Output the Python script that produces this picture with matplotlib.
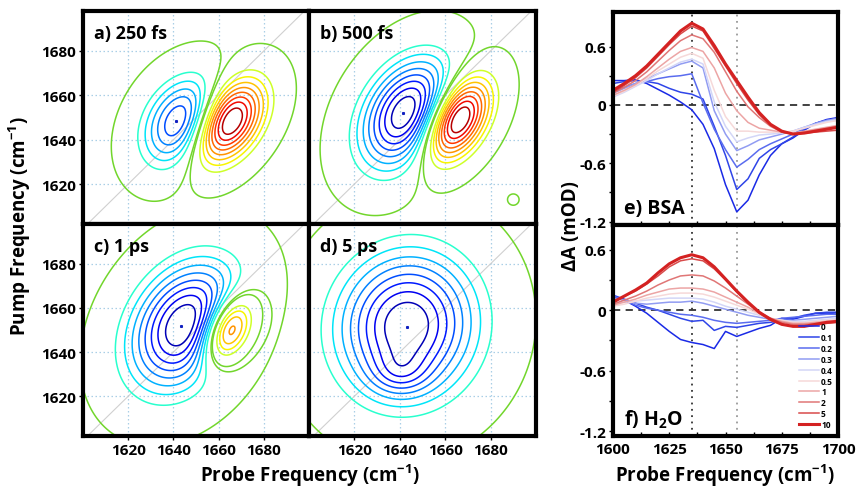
import numpy as np
import matplotlib
matplotlib.use('Agg')
import matplotlib.pyplot as plt
from matplotlib import cm

plt.rcParams['font.family'] = ['Open Sans', 'DejaVu Sans']
plt.rcParams['font.weight'] = 'bold'
plt.rcParams['mathtext.fontset'] = 'custom'
plt.rcParams['mathtext.rm'] = 'Open Sans:bold'
plt.rcParams['mathtext.bf'] = 'Open Sans:bold'
plt.rcParams['mathtext.default'] = 'bf'

# ---- 2D IR panels: peaks
# (amplitude, probe centre, pump centre, probe width, pump width, tilt)
peaks_a = [(-0.68, 1644, 1648, 12, 14, 0.30), (1.0, 1664, 1648, 11, 13, 0.42)]
peaks_b = [(-0.85, 1643, 1652, 14, 17, 0.35), (1.0, 1665, 1649, 10, 13, 0.45),
           (0.03, 1690, 1613, 3, 3, 0.0)]
peaks_c = [(-1.0, 1645, 1652, 17, 20, 0.30), (0.95, 1664, 1650, 8, 11, 0.40)]
peaks_d = [(-1.0, 1643, 1652, 21, 23, 0.05), (-0.20, 1640, 1630, 9, 7, 0.0)]
panel_peaks = [peaks_a, peaks_b, peaks_c, peaks_d]
panel_labels = ['a) 250 fs', 'b) 500 fs', 'c) 1 ps', 'd) 5 ps']
contour_steps = [0.2, 0.3, 0.4, 0.5, 0.6, 0.7, 0.8, 0.9]
zero_step = 0.025
grid_ticks = [1620, 1640, 1660, 1680]

# ---- 1D transient spectra
probe_1d = [1600, 1605, 1610, 1615, 1620, 1625, 1630, 1635, 1640, 1645, 1650,
            1655, 1660, 1665, 1670, 1675, 1680, 1685, 1690, 1695, 1700]
delays = ['0', '0.1', '0.2', '0.3', '0.4', '0.5', '1', '2', '5', '10']

bsa_0 = [0.25, 0.25, 0.26, 0.22, 0.16, 0.10, 0.03, -0.05, -0.20, -0.45, -0.82,
         -1.10, -0.98, -0.72, -0.52, -0.40, -0.34, -0.26, -0.19, -0.15, -0.13]
bsa_01 = [0.22, 0.24, 0.25, 0.24, 0.22, 0.17, 0.13, 0.11, 0.06, -0.22, -0.52,
          -0.87, -0.76, -0.55, -0.46, -0.40, -0.33, -0.25, -0.19, -0.16, -0.14]
bsa_02 = [0.14, 0.18, 0.22, 0.24, 0.27, 0.29, 0.30, 0.32, 0.02, -0.25, -0.46,
          -0.64, -0.56, -0.46, -0.40, -0.35, -0.30, -0.24, -0.19, -0.16, -0.14]
bsa_03 = [0.12, 0.17, 0.22, 0.27, 0.32, 0.37, 0.42, 0.45, 0.38, -0.06, -0.30,
          -0.47, -0.42, -0.36, -0.33, -0.30, -0.27, -0.23, -0.19, -0.16, -0.14]
bsa_04 = [0.08, 0.13, 0.19, 0.25, 0.32, 0.38, 0.44, 0.47, 0.42, 0.03, -0.22,
          -0.38, -0.34, -0.31, -0.30, -0.29, -0.27, -0.23, -0.20, -0.17, -0.15]
bsa_05 = [0.09, 0.14, 0.20, 0.27, 0.35, 0.42, 0.49, 0.53, 0.48, 0.15, -0.12,
          -0.27, -0.27, -0.28, -0.28, -0.28, -0.27, -0.24, -0.21, -0.18, -0.16]
bsa_1 = [0.10, 0.15, 0.21, 0.29, 0.38, 0.47, 0.55, 0.59, 0.55, 0.38, 0.12,
         -0.06, -0.18, -0.24, -0.26, -0.28, -0.29, -0.27, -0.25, -0.23, -0.21]
bsa_2 = [0.12, 0.18, 0.25, 0.34, 0.45, 0.56, 0.66, 0.72, 0.68, 0.54, 0.34,
         0.14, -0.02, -0.13, -0.22, -0.28, -0.30, -0.28, -0.26, -0.24, -0.22]
bsa_5 = [0.13, 0.20, 0.28, 0.38, 0.50, 0.62, 0.73, 0.81, 0.76, 0.58, 0.40,
         0.22, 0.05, -0.10, -0.21, -0.28, -0.30, -0.29, -0.28, -0.27, -0.26]
bsa_10 = [0.15, 0.22, 0.30, 0.40, 0.52, 0.64, 0.76, 0.84, 0.78, 0.61, 0.42,
          0.25, 0.08, -0.08, -0.20, -0.27, -0.30, -0.29, -0.27, -0.25, -0.23]

h2o_0 = [0.13, 0.10, 0.04, -0.03, -0.12, -0.21, -0.29, -0.32, -0.34, -0.38, -0.21,
         -0.26, -0.22, -0.18, -0.15, -0.08, -0.09, -0.06, -0.03, -0.03, -0.04]
h2o_01 = [0.15, 0.11, 0.07, 0.03, 0.00, -0.04, -0.08, -0.11, -0.10, -0.20, -0.16,
          -0.17, -0.15, -0.13, -0.12, -0.10, -0.08, -0.05, -0.03, -0.02, -0.02]
h2o_02 = [0.14, 0.10, 0.05, 0.02, 0.00, -0.02, -0.04, -0.05, -0.07, -0.10, -0.12,
          -0.13, -0.12, -0.11, -0.10, -0.08, -0.07, -0.06, -0.05, -0.04, -0.04]
h2o_03 = [0.12, 0.10, 0.07, 0.06, 0.07, 0.08, 0.08, 0.09, 0.07, 0.04, 0.01,
          -0.02, -0.05, -0.07, -0.09, -0.10, -0.10, -0.09, -0.08, -0.07, -0.06]
h2o_04 = [0.08, 0.08, 0.09, 0.10, 0.11, 0.12, 0.12, 0.12, 0.11, 0.08, 0.04,
          0.01, -0.02, -0.05, -0.08, -0.10, -0.11, -0.11, -0.10, -0.09, -0.08]
h2o_05 = [0.04, 0.06, 0.09, 0.12, 0.14, 0.16, 0.17, 0.17, 0.16, 0.13, 0.09,
          0.05, 0.01, -0.04, -0.08, -0.10, -0.12, -0.12, -0.11, -0.10, -0.09]
h2o_1 = [0.05, 0.08, 0.11, 0.15, 0.18, 0.21, 0.22, 0.22, 0.21, 0.18, 0.13,
         0.08, 0.03, -0.03, -0.08, -0.11, -0.13, -0.13, -0.12, -0.11, -0.10]
h2o_2 = [0.06, 0.10, 0.14, 0.19, 0.25, 0.30, 0.34, 0.35, 0.34, 0.29, 0.22,
         0.14, 0.06, -0.02, -0.08, -0.12, -0.14, -0.14, -0.13, -0.12, -0.11]
h2o_5 = [0.09, 0.14, 0.19, 0.26, 0.34, 0.43, 0.49, 0.51, 0.49, 0.41, 0.30,
         0.18, 0.07, -0.03, -0.10, -0.14, -0.16, -0.16, -0.15, -0.13, -0.12]
h2o_10 = [0.08, 0.14, 0.20, 0.27, 0.37, 0.46, 0.52, 0.55, 0.52, 0.43, 0.31,
          0.19, 0.08, -0.02, -0.09, -0.14, -0.16, -0.16, -0.14, -0.12, -0.11]

bsa_curves = [bsa_0, bsa_01, bsa_02, bsa_03, bsa_04, bsa_05, bsa_1, bsa_2, bsa_5, bsa_10]
h2o_curves = [h2o_0, h2o_01, h2o_02, h2o_03, h2o_04, h2o_05, h2o_1, h2o_2, h2o_5, h2o_10]
marker_lines = [1635, 1655]

line_colors = ['#1a2ae6', '#2f45e8', '#5a6cef', '#919cf2', '#d3d6f7',
               '#f6d9d9', '#eca5a5', '#e07676', '#d84a4a', '#d42222']
line_widths = [1.1] * 9 + [2.2]

W, H = 857, 489
fig = plt.figure(figsize=(W / 100, H / 100), dpi=100)


def box(x0, y0, x1, y1):
    return [x0 / W, 1 - y1 / H, (x1 - x0) / W, (y1 - y0) / H]


def field(peaks, X, Y):
    Z = np.zeros_like(X)
    for A, x0, y0, sx, sy, r in peaks:
        dx = (X - x0) / sx
        dy = (Y - y0) / sy
        q = (dx**2 - 2 * r * dx * dy + dy**2) / (1 - r**2)
        Z += A * np.exp(-0.5 * q)
    return Z / np.abs(Z).max()


probe = np.linspace(1595, 1705, 221)
pump = np.linspace(1595, 1705, 221)
X, Y = np.meshgrid(probe, pump)

levels = [-s for s in contour_steps[::-1]] + [-zero_step, zero_step] + contour_steps
colors = [cm.jet(0.5 + l / 2) for l in levels]
green = '#72d62c'
colors[len(contour_steps)] = green
colors[len(contour_steps) + 1] = green

boxes_2d = [(83, 12, 309, 225), (309, 12, 536, 225),
            (83, 225, 309, 437), (309, 225, 536, 437)]

for i, (peaks, label, bx) in enumerate(zip(panel_peaks, panel_labels, boxes_2d)):
    ax = fig.add_axes(box(*bx))
    for g in grid_ticks:
        ax.axvline(g, color='#a9cfe6', ls=(0, (1.2, 2.0)), lw=0.9, zorder=0)
        ax.axhline(g, color='#a9cfe6', ls=(0, (1.2, 2.0)), lw=0.9, zorder=0)
    ax.plot([1600, 1700], [1600, 1700], color='#d0d0d0', lw=0.8, zorder=1)
    Z = field(peaks, X, Y)
    ax.contour(X, Y, Z, levels=levels, colors=colors, linewidths=1.1, zorder=2)
    k = np.argmin(Z)
    ax.plot(X.flat[k], Y.flat[k], 's', ms=1.2, color='#1020c0', zorder=3)
    ax.set_xlim(1600, 1700)
    ax.set_ylim(1602, 1698)
    ax.set_xticks(grid_ticks)
    ax.set_yticks(grid_ticks)
    ax.tick_params(direction='out', length=3, width=1, labelsize=11, pad=2)
    if i in (1, 3):
        ax.set_yticklabels([])
        ax.tick_params(axis='y', length=0)
    if i in (0, 1):
        ax.set_xticklabels([])
        ax.tick_params(axis='x', length=0)
    for s in ax.spines.values():
        s.set_linewidth(3)
    ax.text(0.05, 0.94, label, transform=ax.transAxes, fontsize=13,
            fontweight='bold', va='top', ha='left')

fig.text(20 / W, 1 - 226 / H, 'Pump Frequency (cm$^{-1}$)', rotation=90,
         ha='center', va='center', fontsize=13.5, fontweight='bold')
fig.text(310 / W, 1 - 476 / H, 'Probe Frequency (cm$^{-1}$)',
         ha='center', va='center', fontsize=13.5, fontweight='bold')

# ---- right column
boxes_1d = [(613, 13, 838, 226), (613, 226, 838, 437)]
ylims = [(-1.235, 0.955), (-1.247, 0.845)]
for j, (curves, bx, yl) in enumerate(zip([bsa_curves, h2o_curves], boxes_1d, ylims)):
    ax = fig.add_axes(box(*bx))
    ax.axhline(0, color='#333333', ls=(0, (4, 3)), lw=1.3, zorder=1)
    ax.axvline(marker_lines[0], color='#333333', ls=(0, (1, 2.5)), lw=1.3, zorder=1)
    ax.axvline(marker_lines[1], color='#999999', ls=(0, (1, 2.5)), lw=1.3, zorder=1)
    for c, d, col, lw in zip(curves, delays, line_colors, line_widths):
        ax.plot(probe_1d, c, color=col, lw=lw, label=d, zorder=2)
    ax.set_xlim(1600, 1700)
    ax.set_ylim(*yl)
    ax.set_yticks([-1.2, -0.6, 0, 0.6])
    ax.set_yticklabels(['-1.2', '-0.6', '0', '0.6'])
    ax.set_yticks([-0.9, -0.3, 0.3], minor=True)
    ax.set_xticks([1600, 1625, 1650, 1675, 1700])
    ax.set_xticks([1612.5, 1637.5, 1662.5, 1687.5], minor=True)
    ax.tick_params(axis='y', which='both', direction='out', length=3, width=1,
                   labelsize=11, pad=2)
    ax.tick_params(axis='x', which='both', direction='in', length=3, width=1,
                   labelsize=11, pad=4)
    for s in ax.spines.values():
        s.set_linewidth(3)
    if j == 0:
        ax.set_xticklabels([])
        ax.text(0.05, 0.08, 'e) BSA', transform=ax.transAxes, fontsize=14,
                fontweight='bold', va='center')
    else:
        ax.text(0.05, 0.08, 'f) H$_2$O', transform=ax.transAxes, fontsize=14,
                fontweight='bold', va='center')
        ax.legend(loc='lower right', bbox_to_anchor=(1.0, 0.01), frameon=False,
                  fontsize=6, handlelength=2.4, labelspacing=0.22,
                  handletextpad=0.3, borderaxespad=0.2)

fig.text(571 / W, 1 - 226 / H, 'ΔA (mOD)', rotation=90,
         ha='center', va='center', fontsize=13.5, fontweight='bold')
fig.text(725 / W, 1 - 476 / H, 'Probe Frequency (cm$^{-1}$)',
         ha='center', va='center', fontsize=13.5, fontweight='bold')

fig.savefig('out.png', dpi=100)
